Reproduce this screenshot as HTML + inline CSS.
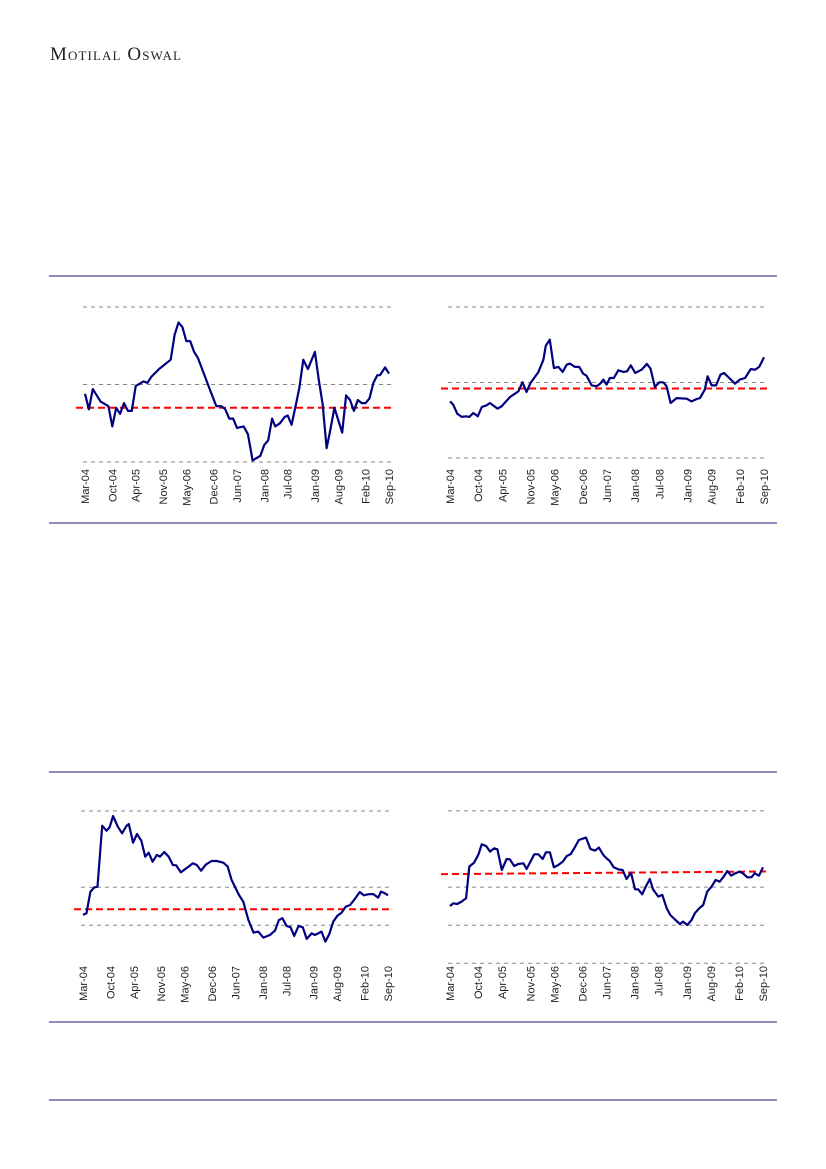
<!DOCTYPE html>
<html><head><meta charset="utf-8"><style>
html,body{margin:0;padding:0;background:#fff;width:826px;height:1169px;overflow:hidden}
svg{display:block}
.logo{position:absolute;left:50px;top:44px;font-family:"Liberation Serif",serif;font-size:19px;font-variant:small-caps;letter-spacing:1.1px;color:#222}
</style></head><body>
<div class="logo">Motilal Oswal</div>
<svg id="pg" width="826" height="1169"></svg>
<script>
const tickLabels=["Mar-04","Oct-04","Apr-05","Nov-05","May-06","Dec-06","Jun-07","Jan-08","Jul-08","Jan-09","Aug-09","Feb-10","Sep-10"];
const tickMonths=[0,7,13,20,26,33,39,46,52,59,65,72,78];

const c1Months=[0,1,2,4,6,7,8,9,10,11,12,13,15,16,17,19,22,23,24,25,26,27,28,29,32,33.7,35,36,37,38,39,40.7,41.8,43,45,46,47,48,48.8,50,51.2,52,53,54.2,55,56,57.2,59,60,61,62,62.8,64,66,67,68,69,70,71,72,73,74,75,75.7,77,78];
const c1Values=[44,34,47,39,36,23,35,31,38,33,33,49,52,51,55,60,66,82,90,87,78,78,71,67,47,36,36,34,28,28,22,23,18,1,4,11,14,28,23,25,29,30,24,38,48,66,60,71,53,37,9,19,35,19,43,40,33,40,38,38,41,51,56,56,61,57];
const c1Grid=[0,50,100];
const c1Avg=[35,35];

const c2Months=[0,0.8,1.8,2.9,4,4.8,5.8,6.9,7.9,9.1,9.9,11.8,12.8,14.9,17,18,19,20,21.9,23.2,23.8,24.8,25.8,26.9,28,29,29.8,31,32.1,33.1,33.9,35.2,36.4,37.3,38.1,38.9,39.7,40.7,41.8,43.1,44,44.9,46,47.6,48.9,49.8,50.9,52,53,53.8,54.8,56.3,58.8,60,61.3,62.1,63.3,64,65,66.1,67.2,68.1,70.8,72,73.3,74.7,75.8,76.8,78];
const c2Values=[37.5,35.3,29.4,27.2,27.6,27.2,29.8,27.6,33.8,34.9,36.4,32.7,34.2,40.4,44.2,50.1,43.7,49.7,56.7,65.1,74.4,78.4,59.6,60.3,57,61.8,62.5,60.3,60.3,55.8,54.5,48.1,47.5,49.2,51.9,48.6,53,53,58.1,57,57.4,61.4,56.3,58.5,62.3,59.2,47,50.1,50.1,47.5,36.4,39.7,39.3,37.5,39.1,39.7,45.3,54.1,48.1,48.1,55.2,56.3,49.2,51.9,53,58.9,58.5,60.3,66.7];
const c2Grid=[0,50,100];
const c2Avg=[46,46];

const c3Months=[0,0.9,1.9,2.9,3.7,4.9,6,6.8,7.7,8.9,10,11.1,11.7,12.8,13.8,14.9,15.9,16.8,17.8,18.9,19.7,20.8,21.9,23,23.8,25,27,28.1,29.1,30.2,31.4,32.9,34.2,35.9,37,38,39.9,41,42.3,43.6,44.8,46.1,47.8,49.1,50.1,51,52.1,53.1,54,55.1,56.2,57.2,58.5,59.3,61,62,63,64,65,66.1,67.2,68.3,69.5,70.8,71.8,72.9,74.2,75.5,76.2,77.2,78];
const c3Values=[13.6,15.7,44.1,49.8,50.7,130.7,124.2,128.6,143.4,129.4,120.7,130.3,132.9,108.4,119.8,111.1,90.2,95.3,83.5,92.3,90.1,96.2,90.1,79.1,78.7,69.5,77,81.3,79.1,71.7,79.6,84.4,84.4,82.2,77,59.5,39.8,31,7,-9.6,-8.3,-16.2,-12.7,-7,7,9.2,-0.9,-2.6,-14,-0.9,-2.6,-17.9,-10.5,-12.7,-8.3,-21.4,-11.4,4.8,12.2,16.6,24.5,26.7,34.5,43.7,39.4,40.7,41.1,36.3,44.2,42,39.4];
const c3Grid=[0,50,150];
const c3Avg=[21,21];

const c4Months=[0,0.8,1.8,2.9,4,4.8,6,7.1,7.9,9,10,11,11.8,12.9,14.1,14.9,16,17,18.3,19.1,21,22,23.1,23.9,24.9,25.9,27,28.1,29.1,30.1,31.1,32.1,33.9,35,36.1,37.1,38.2,39.2,39.8,40.8,41.9,43,44,45.1,46.1,46.9,47.9,48.8,49.8,50.6,51.9,52.9,54,54.9,56.2,57.3,58.1,59.1,60.2,61,62.1,63.1,64.1,65.2,66.2,67.2,68.2,69.1,70.1,71.1,72.2,73,74.1,75.1,75.9,77,78];
const c4Values=[150.5,157.5,155.7,161.9,170.6,253.7,264.2,286.1,312.3,308,293.1,301.8,299.2,245,273.8,273,255.5,260.7,262.5,247.6,286.1,286.1,273.8,291.3,291.3,252,258.1,266.8,281.7,287,304.5,323.7,329.8,300.1,295.7,303.6,284.3,273.8,268.6,252,246.7,245,221.3,238,194.2,194.2,181.1,201.2,221.3,194.2,175,179.4,144.4,126.9,113.7,103.2,109.4,100.6,113.7,131.2,144.4,153.1,188.1,201.2,218.7,214.3,227.5,242.3,230.1,236.2,240.6,236.2,225.7,225.7,236.2,230.1,252];
const c4Grid=[0,100,200,400];
const c4Avg=[234,241];

const NS="http://www.w3.org/2000/svg";
const svg=document.getElementById('pg');
function mk(tag,attrs,parent){const e=document.createElementNS(NS,tag);for(const k in attrs)e.setAttribute(k,attrs[k]);(parent||svg).appendChild(e);return e;}

[276,523,772,1022,1100].forEach((y,i)=>{
  const l=mk('line',{x1:49,x2:777,y1:y,y2:y,stroke:'#1c1c7a','stroke-width':1});
  
  
});

function chart(name,cfg,months,values,grid,avg){
  const g=mk('g',{});
  
  
  const xs=m=>cfg.x0+(cfg.x1-cfg.x0)*m/78;
  const ys=v=>cfg.yBase-(v-cfg.vBase)*cfg.k;
  grid.forEach(v=>{
    const l=mk('line',{x1:cfg.x0-2,x2:cfg.x1+3,y1:ys(v),y2:ys(v),stroke:'#888','stroke-width':1,'stroke-dasharray':'4,4'},g);
    
    
  });
  const a=mk('line',{x1:cfg.x0-9,x2:cfg.x1+3,y1:ys(avg[0]),y2:ys(avg[1]),stroke:'#ff0000','stroke-width':2,'stroke-dasharray':'7,4'},g);
  
  
  const pts=months.map((m,i)=>xs(m).toFixed(1)+','+ys(values[i]).toFixed(1)).join(' ');
  const p=mk('polyline',{points:pts,fill:'none',stroke:'#000080','stroke-width':2.2,'stroke-linejoin':'round'},g);
  
  
  tickMonths.forEach((m,i)=>{
    const x=xs(m)+4,y=cfg.ly;
    const t=mk('text',{x:x,y:y,transform:`rotate(-90 ${x} ${y})`,'text-anchor':'end','font-family':'Liberation Sans, sans-serif','font-size':'11px',fill:'#222'},g);
    t.textContent=tickLabels[i];
    
    
  });
}
chart('chart-top-left',{x0:85,x1:389,yBase:462,vBase:0,k:1.55,ly:469},c1Months,c1Values,c1Grid,c1Avg);
chart('chart-top-right',{x0:450,x1:764,yBase:458,vBase:0,k:1.51,ly:469},c2Months,c2Values,c2Grid,c2Avg);
chart('chart-bottom-left',{x0:83,x1:388,yBase:925.3,vBase:0,k:0.762,ly:966},c3Months,c3Values,c3Grid,c3Avg);
chart('chart-bottom-right',{x0:450,x1:763,yBase:963.3,vBase:0,k:0.381,ly:966},c4Months,c4Values,c4Grid,c4Avg);
</script>
</body></html>
